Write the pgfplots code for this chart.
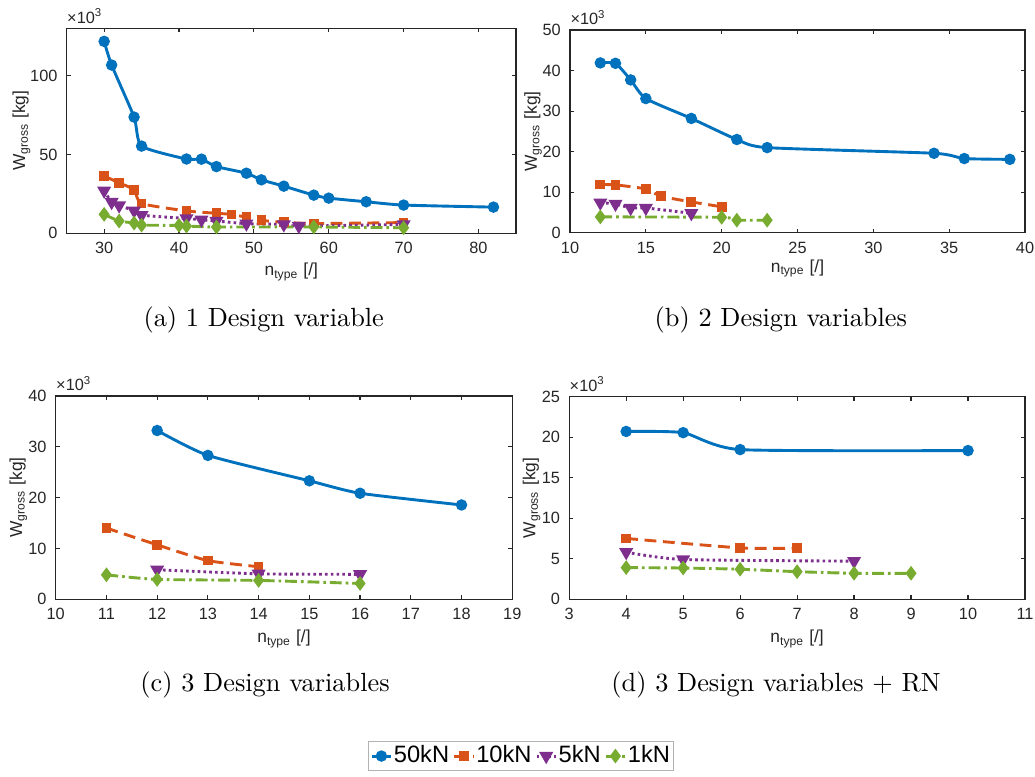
\documentclass[border=0pt]{standalone}
\usepackage{pgfplots}
\pgfplotsset{compat=1.18}
\usepackage{fontspec}
\newfontfamily\arial{Liberation Sans}

\definecolor{c1}{rgb}{0,0.447,0.741}
\definecolor{c2}{rgb}{0.85,0.325,0.098}
\definecolor{c3}{rgb}{0.494,0.184,0.556}
\definecolor{c4}{rgb}{0.466,0.674,0.188}
\definecolor{axgray}{rgb}{0.15,0.15,0.15}

\pgfplotsset{
  panel/.style={
    scale only axis,
    anchor=south west,
    axis line style={axgray, line width=0.45pt},
    tick style={axgray, line width=0.45pt},
    tick align=inside,
    major tick length=1.5pt,
    xtick pos=both, ytick pos=both,
    xticklabel pos=bottom, yticklabel pos=left,
    ticklabel style={font=\arial\fontsize{6.2}{7}\selectfont, text=axgray},
    /pgf/number format/assume math mode=true,
    label style={font=\arial\fontsize{6.6}{8}\selectfont, text=axgray},
    xlabel={n\textsubscript{type} [/]},
    ylabel={W\textsubscript{gross} [kg]},
    scaled ticks=false,
    extra description/.code={
      \node[anchor=base west, inner sep=0pt, font=\arial\fontsize{6.2}{7}\selectfont, text=axgray]
        at ([yshift=2pt]0,1) {×10\textsuperscript{3}};
    },
  },
  % label placement: first = baseline offset of the y label, second = baseline offset of the x label
  labelpos/.style 2 args={
    ylabel style={at={(axis description cs:0,0.5)}, anchor=base, yshift=#1},
    xlabel style={at={(axis description cs:0.5,0)}, anchor=base, yshift=-#2},
  },
  s50/.style={c1, solid, line width=1.1pt, mark=*, mark size=1.6pt,
    mark options={solid, fill=c1}, smooth, tension=0.35},
  s10/.style={c2, line width=1.1pt, dash pattern=on 4.5pt off 2.5pt, mark=square*,
    mark size=1.3pt, mark options={solid, fill=c2}, smooth, tension=0.35},
  s5/.style={c3, line width=1.1pt, dash pattern=on 1pt off 1.2pt, mark=triangle*,
    mark size=2pt, mark options={solid, fill=c3, rotate=180}, smooth, tension=0.35},
  s1/.style={c4, line width=1.1pt, dash pattern=on 4.5pt off 1.5pt on 1pt off 1.5pt,
    mark=diamond*, mark size=1.9pt, mark options={solid, fill=c4}, smooth, tension=0.35},
}

\begin{document}
\begin{tikzpicture}
\useasboundingbox (0,0) rectangle (393.3pt,-294.9pt);

% (a) one design variable
\begin{axis}[panel, labelpos={15.8pt}{16.0pt}, at={(25.35pt,-88.65pt)}, width=170.7pt, height=77.9pt,
  xmin=25, xmax=85, ymin=0, ymax=130,
  xtick={30,40,...,80}, ytick={0,50,100}]
\addplot[s50] coordinates {(30,121.7) (31,106.7) (34,73.7) (35,55.3) (41,47.1) (43,47.0)
  (45,42.3) (49,38.1) (51,33.9) (54,29.9) (58,24.2) (60,22.3) (65,20.0) (70,17.9) (82,16.6)};
\addplot[s10] coordinates {(30,36.3) (32,32.0) (34,27.6) (35,18.9) (41,14.2) (45,12.7)
  (47,12.0) (49,10.2) (51,8.2) (54,7.0) (58,6.2) (70,6.8)};
\addplot[s5] coordinates {(30,27.0) (31,19.8) (32,17.6) (34,14.4) (35,11.5) (41,9.4)
  (43,8.6) (45,7.8) (49,6.1) (54,5.6) (56,4.6) (70,5.6)};
\addplot[s1] coordinates {(30,12.0) (32,7.8) (34,6.5) (35,5.2) (40,5.0) (41,4.6)
  (45,4.0) (58,4.0) (70,3.5)};
\end{axis}

% (b) two design variables
\begin{axis}[panel, labelpos={12.6pt}{15.0pt}, at={(216.6pt,-88.43pt)}, width=172.9pt, height=77.0pt,
  xmin=10, xmax=40, ymin=0, ymax=50,
  xtick={10,15,...,40}, ytick={0,10,...,50}]
\addplot[s50] coordinates {(12,41.9) (13,41.8) (14,37.7) (15,33.1) (18,28.2) (21,23.0)
  (23,21.0) (34,19.6) (36,18.3) (39,18.1)};
\addplot[s10] coordinates {(12,11.9) (13,11.8) (15,10.8) (16,9.0) (18,7.6) (20,6.4)};
\addplot[s5] coordinates {(12,7.4) (13,7.1) (14,6.1) (15,6.1) (18,4.8)};
\addplot[s1] coordinates {(12,3.9) (20,3.8) (21,3.1) (23,3.1)};
\end{axis}

% (c) three design variables
\begin{axis}[panel, labelpos={12.8pt}{16.5pt}, at={(21.17pt,-227.7pt)}, width=173.5pt, height=77.25pt,
  xmin=10, xmax=19, ymin=0, ymax=40,
  xtick={10,11,...,19}, ytick={0,10,...,40}]
\addplot[s50] coordinates {(12,33.2) (13,28.3) (15,23.3) (16,20.85) (18,18.55)};
\addplot[s10] coordinates {(11,14.0) (12,10.7) (13,7.6) (14,6.4)};
\addplot[s5] coordinates {(12,5.8) (14,5.0) (16,4.9)};
\addplot[s1] coordinates {(11,4.8) (12,3.9) (14,3.7) (16,3.1)};
\end{axis}

% (d) three design variables + RN
\begin{axis}[panel, labelpos={12.9pt}{16.5pt}, at={(216.3pt,-227.7pt)}, width=173.2pt, height=77.0pt,
  xmin=3, xmax=11, ymin=0, ymax=25,
  xtick={3,4,...,11}, ytick={0,5,...,25}]
\addplot[s50] coordinates {(4,20.7) (5,20.55) (6,18.46) (10,18.34)};
\addplot[s10] coordinates {(4,7.5) (6,6.33) (7,6.3)};
\addplot[s5] coordinates {(4,5.8) (5,4.9) (8,4.7)};
\addplot[s1] coordinates {(4,3.9) (5,3.85) (6,3.7) (7,3.4) (8,3.2) (9,3.2)};
\end{axis}

% sub-captions
\node[anchor=base, font=\fontsize{10}{12}\selectfont] at (100.2pt,-124.15pt) {(a) 1 Design variable};
\node[anchor=base, font=\fontsize{10}{12}\selectfont] at (296.7pt,-124.15pt) {(b) 2 Design variables};
\node[anchor=base, font=\fontsize{10}{12}\selectfont] at (100.7pt,-262.85pt) {(c) 3 Design variables};
\node[anchor=base, font=\fontsize{10}{12}\selectfont] at (294.9pt,-262.85pt) {(d) 3 Design variables + RN};

% shared legend
\begin{axis}[hide axis, scale only axis, width=10pt, height=10pt,
  xmin=0, xmax=1, ymin=0, ymax=1, anchor=center, at={(198pt,-287.3pt)},
  legend columns=4,
  legend style={at={(0.5,0.5)}, anchor=center, draw=gray!60, line width=0.4pt,
    font=\arial\fontsize{9}{10}\selectfont, inner xsep=0.8pt, inner ysep=0.5pt,
    nodes={inner xsep=0.6pt, inner ysep=1pt},
    /tikz/every even column/.append style={column sep=0.8pt}},
  legend image code/.code={
    \draw[mark repeat=2, mark phase=2] plot coordinates {(0pt,0pt) (3.6pt,0pt) (7.2pt,0pt)};
  }]
\addlegendimage{s50}
\addlegendentry{50kN}
\addlegendimage{s10}
\addlegendentry{10kN}
\addlegendimage{s5}
\addlegendentry{5kN}
\addlegendimage{s1}
\addlegendentry{1kN}
\end{axis}
\end{tikzpicture}
\end{document}
